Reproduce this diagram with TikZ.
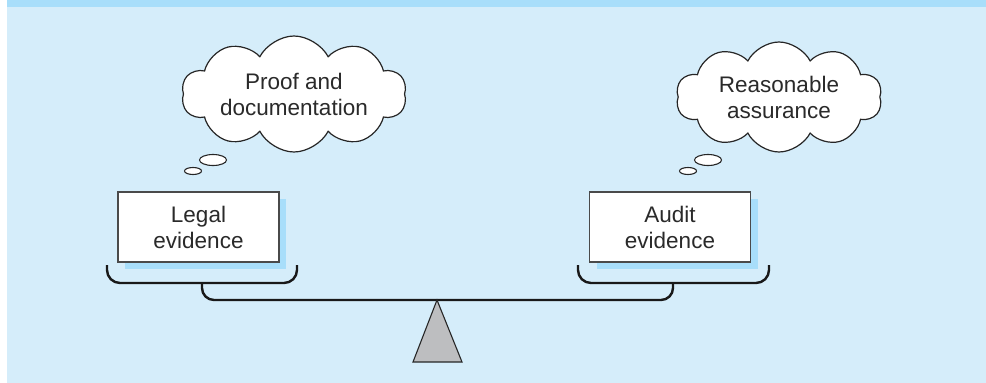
\documentclass[tikz,border=0pt]{standalone}
\usepackage{fontspec}
\setmainfont{Liberation Sans}
\usetikzlibrary{shapes.symbols,shapes.geometric}
\definecolor{bgblue}{HTML}{D5EDFA}
\definecolor{bandblue}{HTML}{A8DEFA}
\definecolor{shadowblue}{HTML}{A8DEFA}
\definecolor{txtgray}{HTML}{2A2A2A}
\definecolor{boxline}{HTML}{4A4A4A}
\definecolor{fulcrum}{HTML}{BDBEC0}
\tikzset{
  lbl/.style={font=\fontsize{22.5}{26}\selectfont, text=txtgray, align=center},
  evbox/.style={lbl, draw=boxline, line width=1.4pt, fill=white, minimum width=161pt, minimum height=70pt, inner sep=0pt},
  shadowbox/.style={fill=shadowblue, draw=none, minimum width=161pt, minimum height=70pt},
  thought/.style={lbl, cloud, draw=black!85, line width=1.2pt, fill=white, cloud puffs=10, cloud puff arc=125, cloud ignores aspect, inner sep=0pt},
  bubble/.style={ellipse, draw=black!85, line width=1.1pt, fill=white, inner sep=0pt},
  pan/.style={draw=black!90, line width=2.4pt, rounded corners=13pt},
}
\begin{document}
\begin{tikzpicture}[x=1pt,y=-1pt]
\useasboundingbox (0,0) rectangle (986,383);
\fill[bgblue] (7,0) rectangle (986,383);
\fill[bandblue] (7,0) rectangle (986,7);

% clouds
\node[thought, minimum width=225pt, minimum height=116pt] (c1) at (294,94) {Proof and\\documentation};
\node[thought, minimum width=206pt, minimum height=110pt] (c2) at (779,97) {Reasonable\\assurance};
\node[bubble, minimum width=27pt, minimum height=11pt] (b1) at (213,160) {};
\node[bubble, minimum width=17pt, minimum height=7pt] (b2) at (193,171) {};
\node[bubble, minimum width=27pt, minimum height=11pt] (b3) at (708,160) {};
\node[bubble, minimum width=17pt, minimum height=7pt] (b4) at (688,171) {};

% boxes with shadows
\node[shadowbox] (s1) at (205.5,234) {};
\node[shadowbox] (s2) at (677.5,234) {};
\node[evbox] (legal) at (198.5,227) {Legal\\evidence};
\node[evbox] (audit) at (670,227) {Audit\\evidence};

% scale pans and beam
\coordinate (lpL) at (107,265);
\coordinate (lpR) at (297,265);
\coordinate (rpL) at (578,265);
\coordinate (rpR) at (769,265);
\draw[pan] (lpL) -- (107,283) -- (297,283) -- (lpR);
\draw[pan] (rpL) -- (578,283) -- (769,283) -- (rpR);
\draw[pan, rounded corners=12pt] (202,283) -- (202,300) -- (673,300) -- (673,283);

% fulcrum
\coordinate (apex) at (437,300);
\draw[fill=fulcrum, draw=black!85, line width=1.1pt] (apex) -- (462,362) -- (413,362) -- cycle;
\end{tikzpicture}
\end{document}
